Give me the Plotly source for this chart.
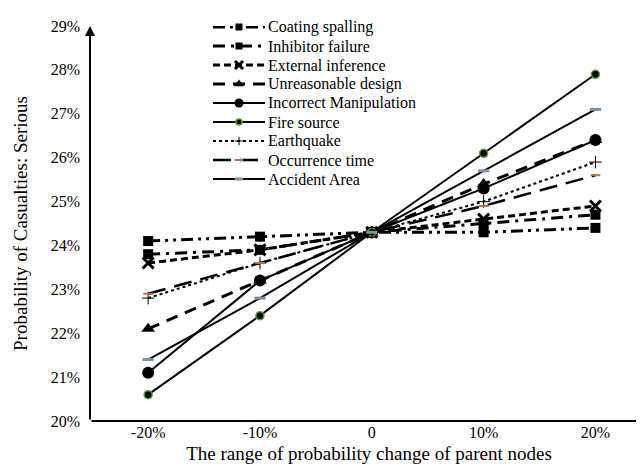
import plotly.graph_objects as go

x_changes = [-20, -10, 0, 10, 20]
x_tick_labels = ["-20%", "-10%", "0", "10%", "20%"]
y_ticks = [20, 21, 22, 23, 24, 25, 26, 27, 28, 29]
y_tick_labels = [f"{v}%" for v in y_ticks]

series_names = ["Coating spalling", "Inhibitor failure", "External inference", "Unreasonable design",
                "Incorrect Manipulation", "Fire source", "Earthquake", "Occurrence time", "Accident Area"]
coating_spalling = [24.1, 24.2, 24.3, 24.3, 24.4]
inhibitor_failure = [23.8, 23.9, 24.3, 24.5, 24.7]
external_inference = [23.6, 23.9, 24.3, 24.6, 24.9]
unreasonable_design = [22.1, 23.2, 24.3, 25.4, 26.4]
incorrect_manipulation = [21.1, 23.2, 24.3, 25.3, 26.4]
fire_source = [20.6, 22.4, 24.3, 26.1, 27.9]
earthquake = [22.8, 23.6, 24.3, 25.0, 25.9]
occurrence_time = [22.9, 23.6, 24.3, 24.9, 25.6]
accident_area = [21.4, 22.8, 24.3, 25.7, 27.1]
series_values = [coating_spalling, inhibitor_failure, external_inference, unreasonable_design,
                 incorrect_manipulation, fire_source, earthquake, occurrence_time, accident_area]

styles = [
    (dict(color="black", width=3, dash="12px,5px,3px,5px,3px,5px"),
     dict(symbol="square", size=10, color="black")),
    (dict(color="black", width=3, dash="12px,6px,3px,6px"),
     dict(symbol="square", size=10, color="black")),
    (dict(color="black", width=3, dash="7px,4px"),
     dict(symbol="x-thin", size=11, color="black", line=dict(color="black", width=3))),
    (dict(color="black", width=3, dash="12px,8px"),
     dict(symbol="triangle-up", size=12, color="black")),
    (dict(color="black", width=2),
     dict(symbol="circle", size=12, color="black")),
    (dict(color="black", width=2),
     dict(symbol="circle", size=8, color="black", line=dict(color="#5a9a2a", width=1.5))),
    (dict(color="black", width=2, dash="dot"),
     dict(symbol="cross-thin", size=9, color="black", line=dict(color="black", width=1))),
    (dict(color="black", width=2.5, dash="18px,9px"),
     dict(symbol="line-ew", size=7, color="#b07050", line=dict(color="#b07050", width=2))),
    (dict(color="black", width=2),
     dict(symbol="line-ew", size=8, color="#8090a0", line=dict(color="#8090a0", width=3))),
]

FONT = "Liberation Serif, Times New Roman, Tinos, serif"
fig = go.Figure()
for name, vals, (line, marker) in zip(series_names, series_values, styles):
    fig.add_trace(go.Scatter(x=x_changes, y=vals, name=name, mode="lines+markers",
                             line=line, marker=marker, showlegend=False))

# Hand-built legend on a hidden overlay axis (pixel-like coordinates) to match tight row spacing
leg_row_y = [19 + 19 * i for i in range(len(series_names))]
for i, (name, (line, marker)) in enumerate(zip(series_names, styles)):
    ly = leg_row_y[i]
    lm = dict(marker)
    lm["size"] = max(6, int(marker["size"] * 0.75))
    fig.add_trace(go.Scatter(x=[205, 257], y=[ly, ly], mode="lines", line=line,
                             xaxis="x2", yaxis="y2", showlegend=False, hoverinfo="skip"))
    fig.add_trace(go.Scatter(x=[231], y=[ly], mode="markers", marker=lm,
                             xaxis="x2", yaxis="y2", showlegend=False, hoverinfo="skip",
                             cliponaxis=False))
    fig.add_annotation(x=258, y=ly, xref="x2", yref="y2", text=name, showarrow=False,
                       xanchor="left", yanchor="middle", font=dict(family=FONT, size=16, color="black"))

xmin, xmax = -25.2, 24.7
ymin, ymax = 20, 29

fig.update_layout(
    width=644, height=466,
    margin=dict(l=82, r=4, t=18, b=53),
    plot_bgcolor="rgba(0,0,0,0)", paper_bgcolor="white",
    font=dict(family=FONT, size=16, color="black"),
    showlegend=False,
    xaxis=dict(range=[xmin, xmax], tickmode="array", tickvals=x_changes, ticktext=x_tick_labels,
               showgrid=False, zeroline=False, showline=False, ticks="", automargin=False,
               title=dict(text="The range of probability change of parent nodes",
                          font=dict(family=FONT, size=19), standoff=6),
               tickfont=dict(family=FONT, size=16)),
    yaxis=dict(range=[ymin, ymax], tickmode="array", tickvals=y_ticks, ticktext=y_tick_labels,
               showgrid=False, zeroline=False, showline=False, ticks="", automargin=False,
               ticklabelstandoff=9,
               title=dict(text="Probability of Casualties: Serious", font=dict(family=FONT, size=19),
                          standoff=18),
               tickfont=dict(family=FONT, size=16)),
    xaxis2=dict(domain=[(205 - 82) / 558, (420 - 82) / 558], range=[205, 420], visible=False,
                anchor="y2", fixedrange=True, automargin=False),
    yaxis2=dict(domain=[(413 - 185) / 395, 1.0], range=[185, 18], visible=False,
                anchor="x2", fixedrange=True, automargin=False),
)

# axis lines with arrowheads
fig.add_annotation(x=xmax, y=ymin, ax=xmin, ay=ymin, xref="x", yref="y", axref="x", ayref="y",
                   showarrow=True, arrowhead=2, arrowsize=1, arrowwidth=2, arrowcolor="black", text="")
fig.add_annotation(x=xmin, y=ymax, ax=xmin, ay=ymin, xref="x", yref="y", axref="x", ayref="y",
                   showarrow=True, arrowhead=2, arrowsize=1, arrowwidth=2, arrowcolor="black", text="")

fig.write_html("out.html")
